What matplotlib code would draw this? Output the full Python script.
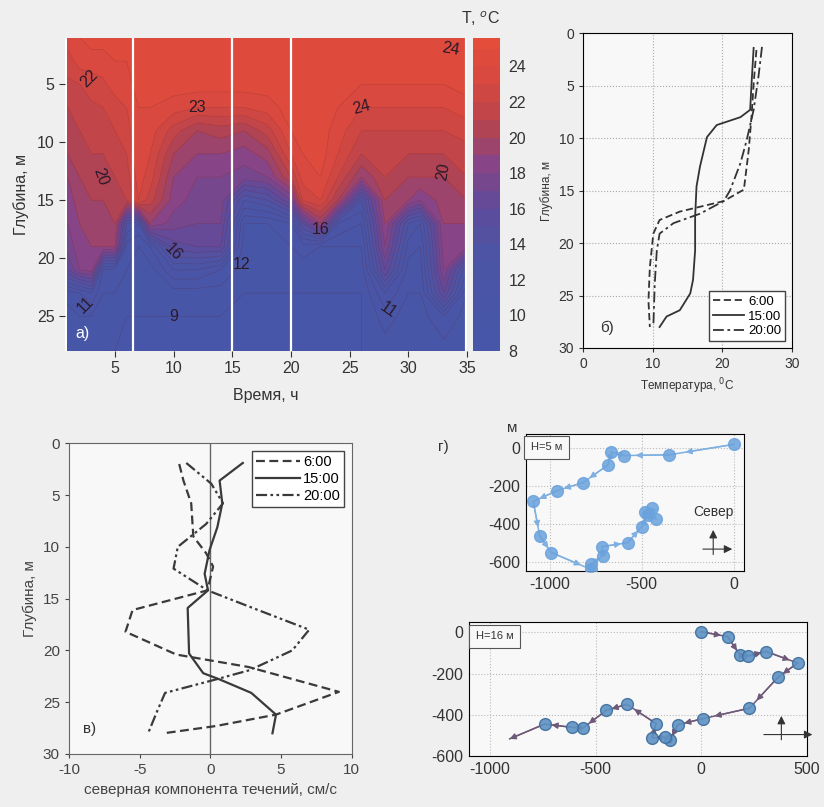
import numpy as np
import matplotlib
matplotlib.use("Agg")
import matplotlib.pyplot as plt
from matplotlib.colors import LinearSegmentedColormap

plt.rcParams['font.family'] = ['Liberation Sans', 'DejaVu Sans']
plt.rcParams['axes.unicode_minus'] = False

# ---- panel a: temperature section (time x depth)
times = [1, 2, 3, 4, 5, 6, 7, 8, 10, 12, 14, 16, 18, 20, 21, 22.5, 24, 26, 28, 30, 31, 33, 35]
depths = [1, 3, 5, 7, 9, 11, 13, 15, 17, 19, 21, 23, 25, 28]
# one profile per time (top -> bottom)
temp_profiles = [
    [23.5, 22.5, 21.8, 21.0, 20.5, 20.0, 19.0, 18.5, 18.0, 17.5, 16.0, 10.5, 9.5, 9.0],
    [24.0, 23.5, 22.0, 21.5, 21.0, 20.5, 20.0, 19.5, 19.0, 18.5, 18.0, 11.0, 10.0, 9.5],
    [24.5, 23.5, 22.5, 21.8, 21.3, 21.0, 20.5, 20.0, 19.5, 19.0, 18.5, 12.0, 10.0, 9.5],
    [24.5, 23.5, 22.8, 22.0, 21.5, 21.0, 20.5, 20.0, 19.5, 19.0, 11.0, 10.0, 9.5, 9.0],
    [24.5, 24.0, 23.5, 22.5, 22.0, 21.5, 21.0, 20.5, 20.0, 19.0, 10.5, 10.0, 9.5, 9.0],
    [24.5, 24.0, 23.5, 23.0, 22.5, 22.0, 21.5, 21.0, 13.0, 10.5, 10.0, 9.5, 9.0, 9.0],
    [24.5, 24.5, 24.5, 24.0, 24.0, 24.0, 23.5, 23.0, 12.0, 10.0, 9.5, 9.5, 9.0, 9.0],
    [24.5, 24.5, 24.5, 24.0, 23.5, 23.0, 22.5, 21.5, 19.0, 11.0, 9.5, 9.5, 9.0, 9.0],
    [24.5, 24.5, 24.5, 23.5, 21.5, 20.0, 19.0, 18.5, 17.5, 15.5, 12.0, 9.5, 9.0, 9.0],
    [24.5, 24.5, 24.5, 23.0, 20.0, 19.0, 18.0, 17.5, 17.0, 16.0, 12.0, 9.5, 9.0, 9.0],
    [24.5, 24.5, 24.5, 23.0, 20.5, 19.0, 18.0, 17.5, 17.0, 16.0, 11.0, 9.5, 9.0, 9.0],
    [24.5, 24.5, 24.5, 23.0, 20.0, 18.5, 17.5, 13.0, 10.0, 9.5, 9.5, 9.0, 9.0, 9.0],
    [24.5, 24.5, 24.5, 23.5, 21.5, 19.5, 18.0, 14.0, 10.0, 9.5, 9.5, 9.0, 9.0, 9.0],
    [24.5, 24.5, 24.5, 24.5, 24.0, 23.0, 21.0, 17.0, 11.0, 10.0, 9.5, 9.0, 9.0, 9.0],
    [24.5, 24.5, 24.5, 24.5, 24.5, 24.0, 23.5, 22.0, 15.0, 10.5, 9.5, 9.0, 9.0, 9.0],
    [24.5, 24.5, 24.5, 24.5, 24.5, 24.5, 24.0, 23.0, 19.0, 10.0, 9.5, 9.0, 9.0, 9.0],
    [24.5, 24.5, 24.5, 24.0, 23.5, 23.0, 22.0, 20.0, 12.0, 10.0, 9.5, 9.0, 9.0, 9.0],
    [24.5, 24.5, 24.0, 23.0, 22.0, 21.0, 19.0, 13.0, 11.0, 10.0, 9.5, 9.0, 9.0, 9.0],
    [24.5, 24.5, 24.0, 23.0, 22.0, 21.5, 21.0, 20.0, 19.0, 18.0, 16.0, 12.0, 10.5, 9.5],
    [24.5, 24.5, 24.0, 23.0, 22.0, 21.0, 20.0, 19.0, 13.0, 11.5, 10.5, 10.0, 9.5, 9.0],
    [24.5, 24.5, 24.0, 23.0, 22.0, 21.0, 20.0, 18.0, 12.0, 11.0, 10.5, 10.0, 9.5, 9.0],
    [25.0, 25.0, 24.0, 23.0, 22.0, 21.0, 20.0, 19.5, 19.0, 18.5, 18.0, 16.0, 11.0, 9.5],
    [25.0, 25.0, 24.5, 23.5, 22.5, 21.5, 21.0, 20.0, 19.0, 18.0, 12.0, 10.0, 9.5, 9.0],
]
profile_marks = [6.5, 15, 20]   # white lines = times of profiles

# ---- panel б: temperature profiles
d6_b = [1.6, 4.8, 7.9, 11.1, 14.9, 16.0, 17.0, 17.8, 19.1, 22.3, 25.5, 28.0]
t6_b = [24.9, 24.5, 24.2, 23.8, 23.1, 20.2, 13.9, 11.0, 10.1, 9.6, 9.4, 9.6]
d15_b = [1.4, 4.8, 7.3, 8.0, 8.75, 9.9, 12.7, 14.6, 17.5, 20.7, 23.5, 24.8, 26.4, 27.0, 28.0]
t15_b = [24.5, 24.2, 24.0, 22.6, 19.2, 17.8, 16.8, 16.3, 16.1, 16.1, 15.8, 15.4, 13.9, 12.0, 11.0]
d20_b = [1.3, 4.1, 7.3, 10.2, 12.4, 15.0, 16.0, 17.2, 18.1, 19.1, 20.7, 23.9, 28.0]
t20_b = [25.7, 25.2, 24.5, 23.5, 22.6, 21.1, 20.2, 16.8, 13.0, 11.0, 10.6, 10.3, 10.1]

# ---- panel в: northward current component
d15_v = [1.9, 3.6, 5.8, 8.1, 10.3, 12.6, 14.2, 15.9, 20.3, 22.2, 22.8, 24.1, 26.2, 28.0]
v15_v = [2.3, 0.66, 0.85, 0.5, -0.05, -0.4, -0.16, -1.6, -1.5, -0.5, 0.66, 2.9, 4.65, 4.4]
d6_v = [2.0, 3.6, 5.8, 9.0, 10.6, 11.9, 14.2, 16.1, 18.2, 20.4, 21.6, 24.0, 26.2, 27.3, 28.0]
v6_v = [-2.2, -1.9, -1.35, -1.2, -0.3, 0.2, -0.2, -5.5, -6.0, -2.4, 2.7, 9.1, 4.65, 0.4, -3.3]
d20_v = [1.9, 3.9, 5.8, 7.8, 10.0, 12.1, 14.2, 15.9, 18.0, 20.0, 21.9, 22.8, 24.1, 26.0, 28.0]
v20_v = [-1.7, 0.07, 0.9, -0.3, -2.3, -2.6, -0.2, 3.0, 7.0, 5.8, 2.8, 0.4, -3.2, -3.8, -4.4]

# ---- panel г: progressive vector diagrams
x5 = [0, -349, -594, -664, -682, -818, -958, -1089, -1054, -991, -776, -776, -709, -716, -576, -500, -467, -482, -445, -422]
y5 = [20, -35, -39, -21, -88, -182, -224, -282, -464, -552, -641, -614, -570, -521, -500, -415, -353, -339, -318, -376]
x16 = [0, 126, 185, 221, 308, 457, 363, 229, 8, -110, -147, -173, -232, -213, -352, -449, -560, -612, -741, -907]
y16 = [3, -21, -112, -115, -93, -149, -219, -368, -419, -448, -523, -509, -512, -443, -349, -379, -464, -461, -445, -517]

fig = plt.figure(figsize=(8.24, 8.07), dpi=100, facecolor='#efefef')

# ================= panel a =================
cmap = LinearSegmentedColormap.from_list('tsec', [
    (0.0, '#4656a8'), (0.30, '#4c55a6'), (0.45, '#5d4c9c'), (0.60, '#884485'),
    (0.72, '#b4434f'), (0.85, '#d64840'), (1.0, '#e44d3a')])
ax_a = fig.add_axes([0.0789, 0.565, 0.488, 0.388])
T = np.array(temp_profiles).T
levels = np.arange(8, 26.01, 1.0)
cf = ax_a.contourf(times, depths, T, levels=levels, cmap=cmap, vmin=8, vmax=25.6)
ax_a.contour(times, depths, T, levels=levels, colors='#5a2030', linewidths=0.5, alpha=0.25)
for tm in profile_marks:
    ax_a.axvline(tm, color='white', lw=1.6)
ax_a.axvline(35, color='white', lw=3)
ax_a.set_xlim(0.75, 35)
ax_a.set_ylim(28, 1)
ax_a.set_xticks([5, 10, 15, 20, 25, 30, 35])
ax_a.set_yticks([5, 10, 15, 20, 25])
ax_a.tick_params(labelsize=11.5, colors='#333333', length=4)
for s in ax_a.spines.values():
    s.set_visible(False)
ax_a.set_xlabel('Время, ч', fontsize=11.5, color='#333333', labelpad=8)
ax_a.set_ylabel('Глубина, м', fontsize=11.5, color='#333333', labelpad=6)
clabels = [('22', 2.8, 4.5, 45), ('23', 12.0, 7.0, 0), ('20', 3.8, 13.0, -70),
           ('16', 10.0, 19.5, -45), ('12', 15.8, 20.5, 0), ('9', 10.0, 25.0, 0),
           ('11', 2.5, 24.0, 45), ('16', 22.5, 17.5, 0), ('24', 26.0, 7.0, 15),
           ('20', 33.0, 12.5, 80), ('24', 33.6, 2.0, -10), ('11', 28.3, 24.5, -35)]
for txt, tx, ty, rot in clabels:
    ax_a.text(tx, ty, txt, fontsize=11.5, color='#2a1a2a', rotation=rot, ha='center', va='center')
ax_a.text(1.6, 26.5, 'а)', fontsize=11.5, color='white', ha='left', va='center')

cax = fig.add_axes([0.574, 0.565, 0.0328, 0.388])
cb = fig.colorbar(cf, cax=cax, ticks=[8, 10, 12, 14, 16, 18, 20, 22, 24])
cb.ax.set_ylim(8, 25.6)
cb.outline.set_visible(False)
cb.ax.tick_params(labelsize=11.5, colors='#333333', length=0, pad=6)
cb.ax.set_title('T, $^o$C', fontsize=11.5, color='#333333', pad=10, loc='right')

# ================= panel б =================
ax_b = fig.add_axes([0.7075, 0.5688, 0.2536, 0.390], facecolor='#f8f8f8')
ax_b.plot(t6_b, d6_b, color='#333333', lw=1.3, ls=(0, (4, 2)), label='6:00')
ax_b.plot(t15_b, d15_b, color='#333333', lw=1.3, ls='-', label='15:00')
ax_b.plot(t20_b, d20_b, color='#333333', lw=1.3, ls=(0, (6, 2, 1.5, 2)), label='20:00')
ax_b.set_xlim(0, 30)
ax_b.set_ylim(30, 0)
ax_b.set_xticks([0, 10, 20, 30])
ax_b.set_yticks([0, 5, 10, 15, 20, 25, 30])
ax_b.grid(True, ls=':', color='#aaaaaa', lw=0.8)
ax_b.tick_params(labelsize=10, colors='#333333', length=3)
ax_b.set_xlabel('Температура, $^0$C', fontsize=8.5, color='#333333')
ax_b.set_ylabel('Глубина, м', fontsize=8.5, color='#333333')
ax_b.legend(loc='lower right', fontsize=9.5, handlelength=2.4, fancybox=False,
            edgecolor='#444444', framealpha=1, borderpad=0.3, labelspacing=0.2,
            handletextpad=0.3)
ax_b.text(2.5, 28.5, 'б)', fontsize=11, color='#333333')

# ================= panel в =================
ax_v = fig.add_axes([0.0837, 0.0657, 0.343, 0.385], facecolor='#f8f8f8')
ax_v.axvline(0, color='#666666', lw=1)
ax_v.plot(v6_v, d6_v, color='#3a3a3a', lw=1.6, ls=(0, (4, 2)), label='6:00')
ax_v.plot(v15_v, d15_v, color='#3a3a3a', lw=1.6, ls='-', label='15:00')
ax_v.plot(v20_v, d20_v, color='#3a3a3a', lw=1.6, ls=(0, (5, 1.5, 1.2, 1.5, 1.2, 1.5)), label='20:00')
ax_v.set_xlim(-10, 10)
ax_v.set_ylim(30, 0)
ax_v.set_xticks([-10, -5, 0, 5, 10])
ax_v.set_yticks([0, 5, 10, 15, 20, 25, 30])
ax_v.tick_params(labelsize=11, colors='#444444', length=3)
ax_v.set_xlabel('северная компонента течений, см/с', fontsize=11, color='#444444')
ax_v.set_ylabel('Глубина, м', fontsize=11, color='#444444')
ax_v.legend(loc='upper right', fontsize=10.5, handlelength=3, fancybox=False,
            edgecolor='#444444', framealpha=1, borderpad=0.3, labelspacing=0.2,
            handletextpad=0.2)
ax_v.text(-9, 28, 'в)', fontsize=11, color='#333333')
for s in ax_v.spines.values():
    s.set_color('#666666')


def draw_track(ax, xs, ys, lcol, fcol, ecol, alpha, last_marker=True):
    ax.plot(xs, ys, color=lcol, lw=1.1, zorder=2)
    n = len(xs) if last_marker else len(xs) - 1
    ax.plot(xs[:n], ys[:n], 'o', ms=8.5, mfc=fcol, mec=ecol, alpha=alpha, zorder=3)
    for i in range(len(xs) - 1):
        x0, y0, x1, y1 = xs[i], ys[i], xs[i + 1], ys[i + 1]
        f = 1.0 if (i == len(xs) - 2 and not last_marker) else 0.75
        ax.annotate('', xy=(x0 + f * (x1 - x0), y0 + f * (y1 - y0)), xytext=(x0, y0),
                    arrowprops=dict(arrowstyle='-|>', color=lcol, lw=1.0,
                                    mutation_scale=9, shrinkA=0, shrinkB=0), zorder=2)


def compass(ax, cx, cy, txt=None):
    ax.annotate('', xy=(cx, cy + 0.16), xytext=(cx, cy - 0.06), xycoords='axes fraction',
                arrowprops=dict(arrowstyle='-|>', color='#333333', lw=0.8, mutation_scale=12))
    ax.annotate('', xy=(cx + 0.10, cy), xytext=(cx - 0.06, cy), xycoords='axes fraction',
                arrowprops=dict(arrowstyle='-|>', color='#333333', lw=0.8, mutation_scale=12))
    if txt:
        ax.text(cx, cy + 0.22, txt, transform=ax.transAxes, fontsize=10, color='#333333',
                ha='center', va='bottom')


# ================= panel г (H=5) =================
ax_g1 = fig.add_axes([0.638, 0.2924, 0.2646, 0.1698], facecolor='#f8f8f8')
draw_track(ax_g1, x5, y5, '#7fb0e0', '#6aa2dc', '#6aa2dc', 0.85)
ax_g1.set_xlim(-1130, 55)
ax_g1.set_ylim(-650, 75)
ax_g1.set_xticks([-1000, -500, 0])
ax_g1.set_yticks([0, -200, -400, -600])
ax_g1.grid(True, ls=':', color='#bbbbbb', lw=0.8)
ax_g1.tick_params(labelsize=11.5, colors='#333333', length=0, pad=4)
ax_g1.text(0.025, 0.94, 'H=5 м', transform=ax_g1.transAxes, fontsize=8, color='#333333',
           va='top', bbox=dict(boxstyle='square,pad=0.6', fc='#f8f8f8', ec='#555555', lw=0.8))
compass(ax_g1, 0.86, 0.16, 'Север')
fig.text(512 / 824, 1 - 428 / 807, 'м', fontsize=11, color='#333333', ha='center', va='center')
fig.text(443 / 824, 1 - 447 / 807, 'г)', fontsize=11, color='#333333', ha='center', va='center')

# ================= panel г (H=16) =================
ax_g2 = fig.add_axes([0.569, 0.0632, 0.410, 0.166], facecolor='#f8f8f8')
draw_track(ax_g2, x16, y16, '#6e5a78', '#5e92c4', '#3d6d9c', 0.9, last_marker=False)
ax_g2.set_xlim(-1100, 500)
ax_g2.set_ylim(-600, 50)
ax_g2.set_xticks([-1000, -500, 0, 500])
ax_g2.set_yticks([0, -200, -400, -600])
ax_g2.grid(True, ls=':', color='#bbbbbb', lw=0.8)
ax_g2.tick_params(labelsize=11.5, colors='#333333', length=0, pad=4)
ax_g2.text(0.02, 0.93, 'H=16 м', transform=ax_g2.transAxes, fontsize=8, color='#333333',
           va='top', bbox=dict(boxstyle='square,pad=0.6', fc='#f8f8f8', ec='#555555', lw=0.8))
compass(ax_g2, 0.925, 0.16)

fig.savefig('out.png', dpi=100, facecolor=fig.get_facecolor())
